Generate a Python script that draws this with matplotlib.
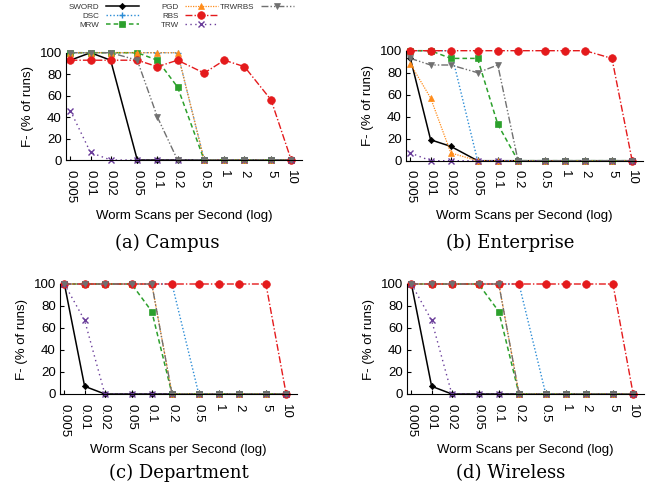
import numpy as np
import matplotlib
matplotlib.use("Agg")
import matplotlib.pyplot as plt

plt.rcParams['font.family'] = ['Liberation Sans', 'DejaVu Sans']

rates = [0.005, 0.01, 0.02, 0.05, 0.1, 0.2, 0.5, 1, 2, 5, 10]
rate_labels = ["0.005", "0.01", "0.02", "0.05", "0.1", "0.2", "0.5", "1", "2", "5", "10"]

detectors = ["SWORD", "DSC", "MRW", "PGD", "RBS", "TRW", "TRWRBS"]

# false negatives (% of runs) per detector, per dataset
campus = {
    "SWORD":  [93, 100, 93, 0, 0, 0, 0, 0, 0, 0, 0],
    "DSC":    [100, 100, 100, 100, 100, 100, 0, 0, 0, 0, 0],
    "MRW":    [100, 100, 100, 100, 93, 68, 0, 0, 0, 0, 0],
    "PGD":    [100, 100, 100, 100, 100, 100, 0, 0, 0, 0, 0],
    "RBS":    [93, 93, 93, 93, 87, 93, 81, 93, 87, 56, 0],
    "TRW":    [46, 7, 0, 0, 0, 0, 0, 0, 0, 0, 0],
    "TRWRBS": [100, 100, 100, 93, 40, 0, 0, 0, 0, 0, 0],
}
enterprise = {
    "SWORD":  [93, 19, 13, 0, 0, 0, 0, 0, 0, 0, 0],
    "DSC":    [100, 100, 100, 0, 0, 0, 0, 0, 0, 0, 0],
    "MRW":    [100, 100, 93, 93, 33, 0, 0, 0, 0, 0, 0],
    "PGD":    [88, 57, 7, 0, 0, 0, 0, 0, 0, 0, 0],
    "RBS":    [100, 100, 100, 100, 100, 100, 100, 100, 100, 93, 0],
    "TRW":    [7, 0, 0, 0, 0, 0, 0, 0, 0, 0, 0],
    "TRWRBS": [93, 87, 87, 80, 87, 0, 0, 0, 0, 0, 0],
}
department = {
    "SWORD":  [100, 7, 0, 0, 0, 0, 0, 0, 0, 0, 0],
    "DSC":    [100, 100, 100, 100, 100, 100, 0, 0, 0, 0, 0],
    "MRW":    [100, 100, 100, 100, 75, 0, 0, 0, 0, 0, 0],
    "PGD":    [100, 100, 100, 100, 100, 0, 0, 0, 0, 0, 0],
    "RBS":    [100, 100, 100, 100, 100, 100, 100, 100, 100, 100, 0],
    "TRW":    [100, 67, 0, 0, 0, 0, 0, 0, 0, 0, 0],
    "TRWRBS": [100, 100, 100, 100, 100, 0, 0, 0, 0, 0, 0],
}
wireless = {
    "SWORD":  [100, 7, 0, 0, 0, 0, 0, 0, 0, 0, 0],
    "DSC":    [100, 100, 100, 100, 100, 100, 0, 0, 0, 0, 0],
    "MRW":    [100, 100, 100, 100, 75, 0, 0, 0, 0, 0, 0],
    "PGD":    [100, 100, 100, 100, 100, 0, 0, 0, 0, 0, 0],
    "RBS":    [100, 100, 100, 100, 100, 100, 100, 100, 100, 100, 0],
    "TRW":    [100, 67, 0, 0, 0, 0, 0, 0, 0, 0, 0],
    "TRWRBS": [100, 100, 100, 100, 100, 0, 0, 0, 0, 0, 0],
}

panels = [
    ("(a) Campus", campus),
    ("(b) Enterprise", enterprise),
    ("(c) Department", department),
    ("(d) Wireless", wireless),
]

styles = {
    "SWORD":  dict(color="black", ls="-", marker="D", ms=3.2, lw=1.1),
    "DSC":    dict(color="#2b8cd6", ls=(0, (1, 1.5)), marker="+", ms=5, lw=1.0),
    "MRW":    dict(color="#2ca02c", ls=(0, (3, 2)), marker="s", ms=5, lw=1.1),
    "PGD":    dict(color="#ff8c1a", ls=(0, (1, 1)), marker="^", ms=5, lw=0.9),
    "RBS":    dict(color="#e41a1c", ls=(0, (5, 1.5, 1, 1.5)), marker="o", ms=5.5, lw=1.0),
    "TRW":    dict(color="#6a3d9a", ls=(0, (1, 2.5)), marker="x", ms=4.5, lw=1.0),
    "TRWRBS": dict(color="#707070", ls=(0, (5, 1.5, 1, 1.5, 1, 1.5)), marker="v", ms=5, lw=1.0),
}

fig = plt.figure(figsize=(6.61, 4.95), dpi=100)

W, H = 661.0, 495.0
# axes boxes in pixels: left, top, right, bottom
boxes = [(66, 52.7, 302, 160), (406, 50.7, 643, 160.7),
         (60, 284, 297, 394), (407, 284, 644, 394)]
caption_pos = [(167, 243), (510, 243), (179, 473), (511, 473)]

handles = {}
for (title, data), (l, t, r, b), (cx, cy) in zip(panels, boxes, caption_pos):
    ax = fig.add_axes([l / W, 1 - b / H, (r - l) / W, (b - t) / H])
    for name in detectors:
        st = styles[name]
        h, = ax.plot(rates, data[name], color=st["color"], linestyle=st["ls"],
                     marker=st["marker"], markersize=st["ms"], linewidth=st["lw"],
                     markeredgewidth=1.0 if st["marker"] in "+x" else 0.5,
                     markeredgecolor=st["color"], clip_on=False, label=name)
        handles[name] = h
    ax.set_xscale("log")
    ax.set_xlim(0.0043, 14.5)
    ax.set_ylim(0, 100)
    ax.set_xticks(rates)
    ax.set_xticklabels(rate_labels, rotation=270, fontsize=9.5)
    ax.minorticks_off()
    ax.set_yticks([0, 20, 40, 60, 80, 100])
    ax.tick_params(axis="y", direction="in", length=3, labelsize=9.5, pad=3)
    ax.tick_params(axis="x", direction="in", length=3, pad=7)
    ax.spines["top"].set_visible(False)
    ax.spines["right"].set_visible(False)
    ax.set_ylabel("F- (% of runs)", fontsize=9.5, labelpad=4)
    ax.set_xlabel("Worm Scans per Second (log)", fontsize=9.5, labelpad=5)
    fig.text(cx / W, 1 - cy / H, title, ha="center", va="center",
             fontsize=13, family=["DejaVu Serif"])

# legend: three columns, each drawn as its own legend so the gaps match
columns = [(["SWORD", "DSC", "MRW"], 139), (["PGD", "RBS", "TRW"], 218), (["TRWRBS"], 294)]
for names, right in columns:
    leg = fig.legend([handles[n] for n in names], names, loc="upper right",
                     bbox_to_anchor=(right / W, 1 - 3.5 / H), frameon=False,
                     fontsize=5.8, markerfirst=False, handlelength=4.1,
                     handletextpad=0.8, labelspacing=0.15, borderpad=0,
                     borderaxespad=0)
    for txt in leg.get_texts():
        txt.set_color("#333333")

fig.savefig("out.png", dpi=100)
